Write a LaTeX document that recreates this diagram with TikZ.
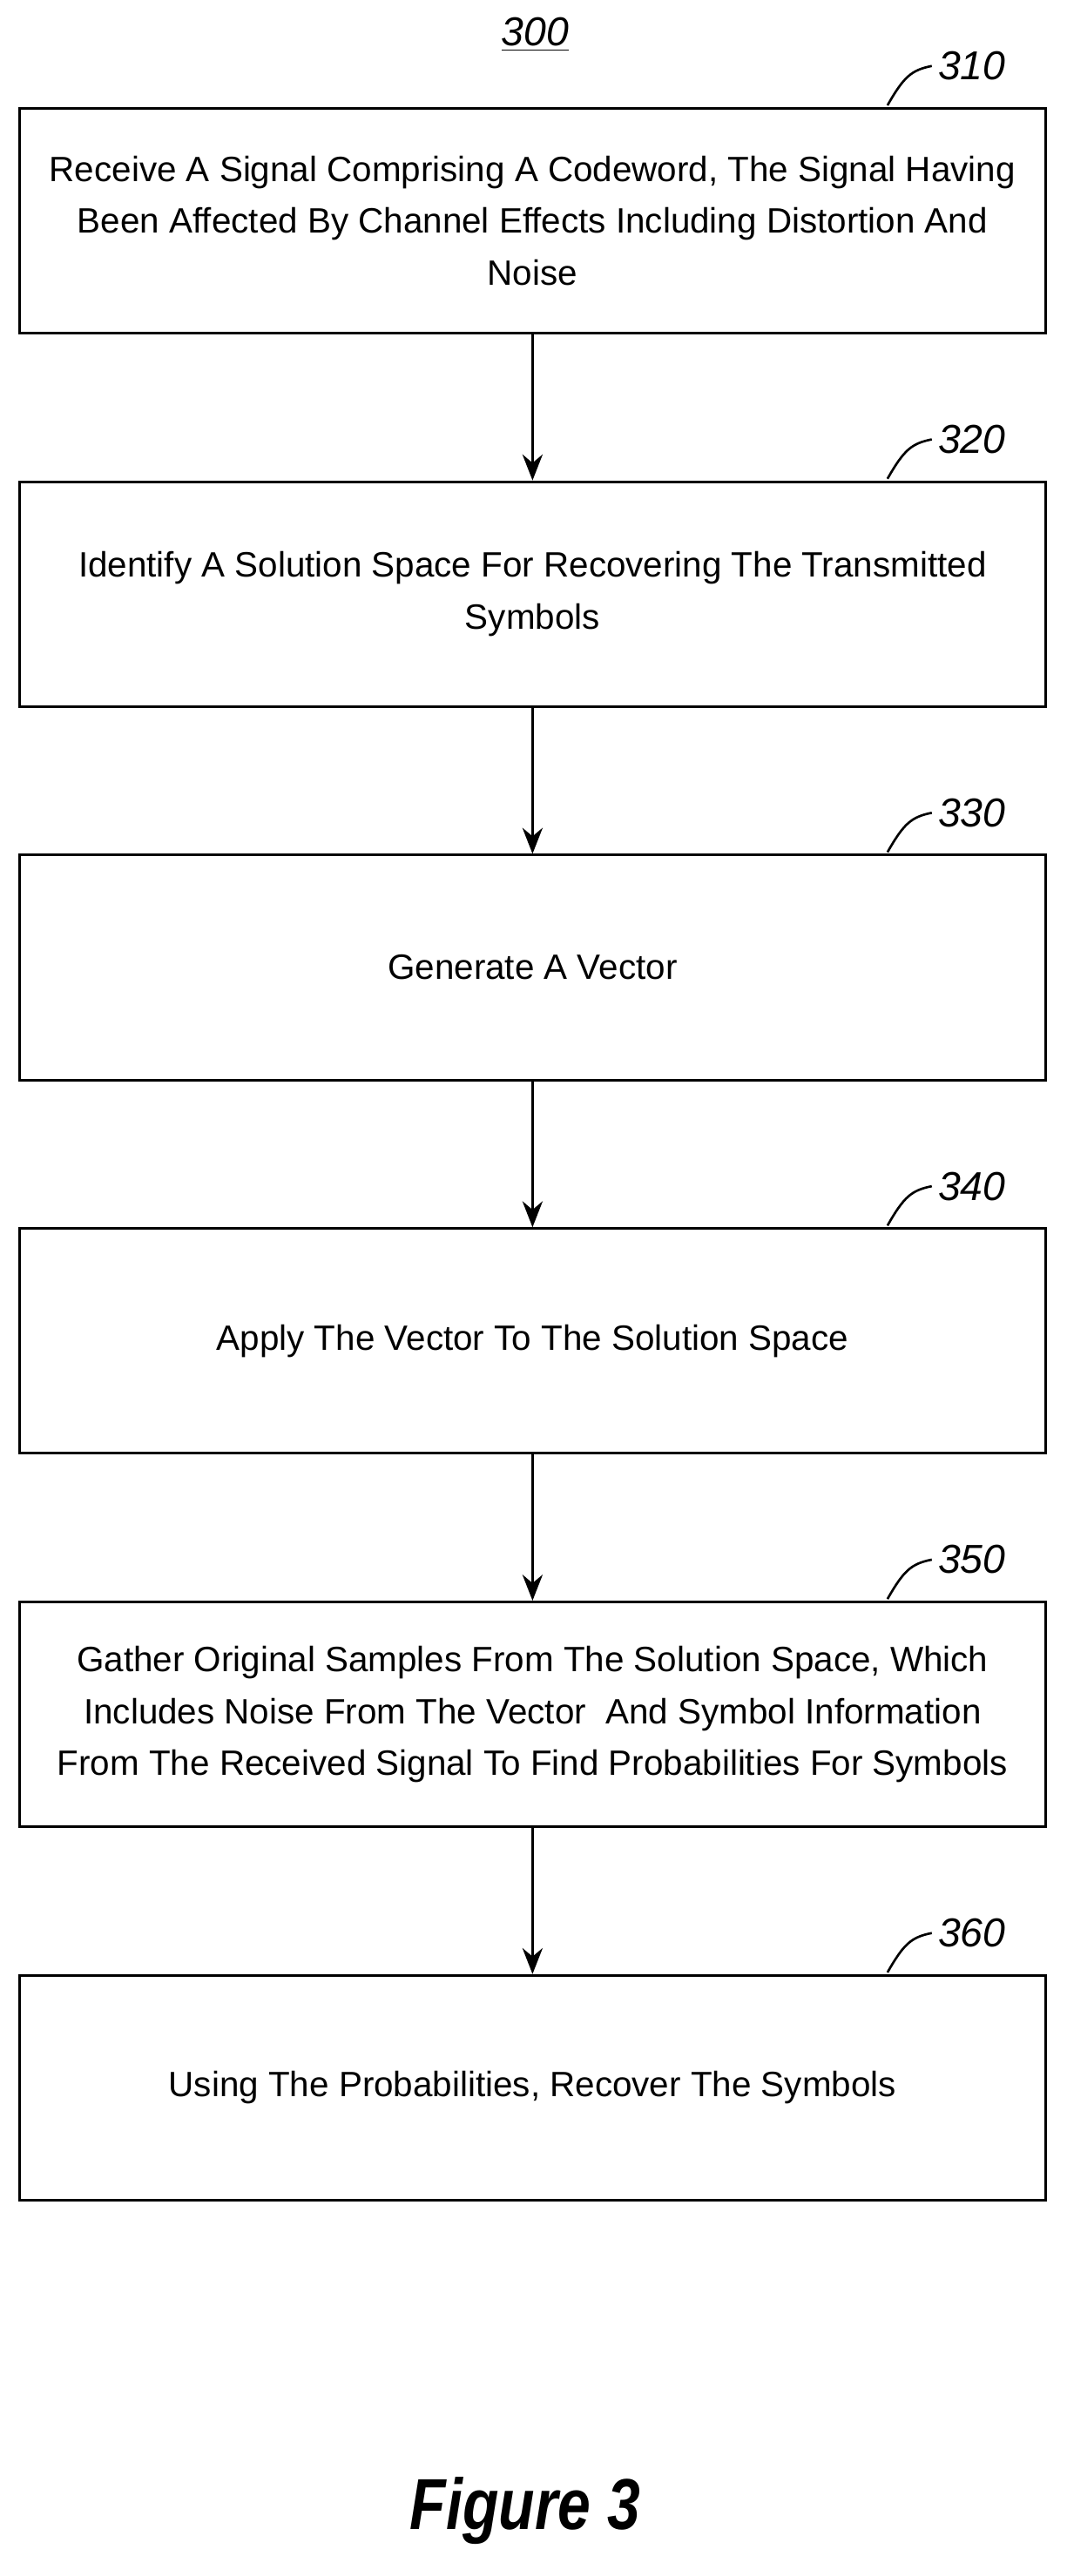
\documentclass[tikz,border=0pt]{standalone}
\usepackage{fontspec}
\setmainfont{Liberation Sans}
\usetikzlibrary{positioning,arrows.meta}
\tikzset{
  stepbox/.style={draw,line width=0.9pt,minimum width=12.5cm,minimum height=2.74cm,
    align=center,font=\fontsize{12.2}{18}\selectfont},
  flowarrow/.style={-{Stealth[length=9pt,width=7pt]},line width=0.9pt},
  reflabel/.style={anchor=west,font=\fontsize{14}{16}\selectfont\itshape,inner sep=1pt}
}
\newcommand{\refmark}[2]{%
  \draw[line width=0.8pt] ([shift={(-1.94,0.02)}]#1.north east) .. controls +(0.2,0.35) and +(-0.25,-0.05) .. ([shift={(-1.4,0.5)}]#1.north east) coordinate (#1tip);
  \node[reflabel] (#1lab) at ([xshift=1pt]#1tip) {#2};}
\begin{document}
\begin{tikzpicture}
\useasboundingbox (0,0) rectangle (13,-31.4);
% title
\node[font=\fontsize{14}{16}\selectfont\itshape] (title) at (6.52,-0.42) {\underline{300}};
% steps
\node[stepbox] (s310) at (6.49,-2.69) {Receive A Signal Comprising A Codeword, The Signal Having\\Been Affected By Channel Effects Including Distortion And\\Noise};
\node[stepbox,below=1.78cm of s310] (s320) {Identify A Solution Space For Recovering The Transmitted\\Symbols};
\node[stepbox,below=1.78cm of s320] (s330) {Generate A Vector};
\node[stepbox,below=1.78cm of s330] (s340) {Apply The Vector To The Solution Space};
\node[stepbox,below=1.78cm of s340] (s350) {Gather Original Samples From The Solution Space, Which\\Includes Noise From The Vector\ \ And Symbol Information\\From The Received Signal To Find Probabilities For Symbols};
\node[stepbox,below=1.78cm of s350] (s360) {Using The Probabilities, Recover The Symbols};
% arrows
\foreach \a/\b in {s310/s320,s320/s330,s330/s340,s340/s350,s350/s360}
  \draw[flowarrow] (\a) -- (\b);
% reference numerals
\refmark{s310}{310}
\refmark{s320}{320}
\refmark{s330}{330}
\refmark{s340}{340}
\refmark{s350}{350}
\refmark{s360}{360}
\node[font=\fontsize{25}{30}\selectfont\bfseries\itshape,xscale=0.82] (fig) at (6.4,-30.6) {Figure 3};
\end{tikzpicture}
\end{document}
